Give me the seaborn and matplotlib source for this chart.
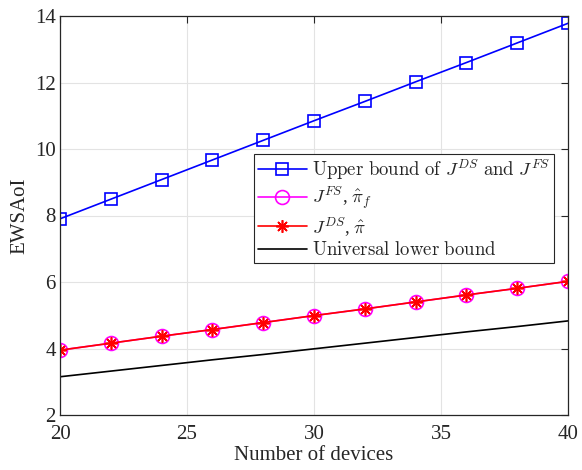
import numpy as np
import pandas as pd
import seaborn as sns
import matplotlib
matplotlib.use('Agg')
import matplotlib.pyplot as plt

devices = [20, 22, 24, 26, 28, 30, 32, 34, 36, 38, 40]
upper_bound = [7.90, 8.49, 9.08, 9.67, 10.26, 10.85, 11.43, 12.02, 12.60, 13.19, 13.78]
j_fs = [3.95, 4.16, 4.37, 4.57, 4.78, 4.99, 5.19, 5.40, 5.61, 5.81, 6.02]
j_ds = [3.95, 4.16, 4.37, 4.57, 4.78, 4.99, 5.19, 5.40, 5.61, 5.81, 6.02]
lower_bound = [3.15, 3.32, 3.49, 3.66, 3.82, 3.99, 4.16, 4.33, 4.50, 4.66, 4.83]

sns.set_theme(style='whitegrid')
plt.rcParams['font.family'] = ['Liberation Serif', 'DejaVu Serif']
plt.rcParams['mathtext.fontset'] = 'cm'

df = pd.DataFrame({'x': devices, 'ub': upper_bound, 'fs': j_fs,
                   'ds': j_ds, 'lb': lower_bound})

fig = plt.figure(figsize=(5.82, 4.70), dpi=100)
ax = fig.add_axes([60/582, 55/470, 508/582, 399/470])

# legend labels written in mathtext so they render in computer modern like latex
sns.lineplot(data=df, x='x', y='ub', ax=ax, color='#0000ff', lw=1.2,
             marker='s', markersize=9, markerfacecolor='none',
             markeredgecolor='#0000ff', markeredgewidth=1.2,
             label=r'$\mathrm{Upper\ bound\ of\ }J^{DS}\mathrm{\ and\ }J^{FS}$')
sns.lineplot(data=df, x='x', y='fs', ax=ax, color='#ff00ff', lw=1.2,
             marker='o', markersize=10, markerfacecolor='none',
             markeredgecolor='#ff00ff', markeredgewidth=1.2,
             label=r'$J^{FS}$, $\hat{\pi}_f$')
sns.lineplot(data=df, x='x', y='ds', ax=ax, color='#ff0000', lw=1.2,
             marker=(8, 2, 0), markersize=9,
             markeredgecolor='#ff0000', markeredgewidth=1.2,
             label=r'$J^{DS}$, $\hat{\pi}$')
sns.lineplot(data=df, x='x', y='lb', ax=ax, color='black', lw=1.2,
             label=r'$\mathrm{Universal\ lower\ bound}$')

ax.set_xlim(20, 40)
ax.set_ylim(2, 14)
ax.set_xticks([20, 25, 30, 35, 40])
ax.set_yticks([2, 4, 6, 8, 10, 12, 14])
ax.grid(True, color='#e3e3e3', lw=0.8)
for s in ax.spines.values():
    s.set_visible(True)
    s.set_color('#262626')
    s.set_linewidth(0.9)
ax.tick_params(direction='in', length=5, width=0.8, top=True, right=True,
               labelsize=15, colors='#262626')
ax.tick_params(axis='x', pad=7)
ax.tick_params(axis='y', pad=3)
ax.set_xlabel('Number of devices', fontsize=15, labelpad=2)
ax.set_ylabel('EWSAoI', fontsize=15, labelpad=4)

leg = ax.legend(loc='upper left', bbox_to_anchor=(0.382, 0.655), fontsize=13.5,
                frameon=True, fancybox=False, framealpha=1, edgecolor='#262626',
                borderpad=0.2, labelspacing=0.15, handlelength=2.6,
                handletextpad=0.3, borderaxespad=0)
leg.get_frame().set_linewidth(0.8)

fig.savefig('out.png', dpi=100)
